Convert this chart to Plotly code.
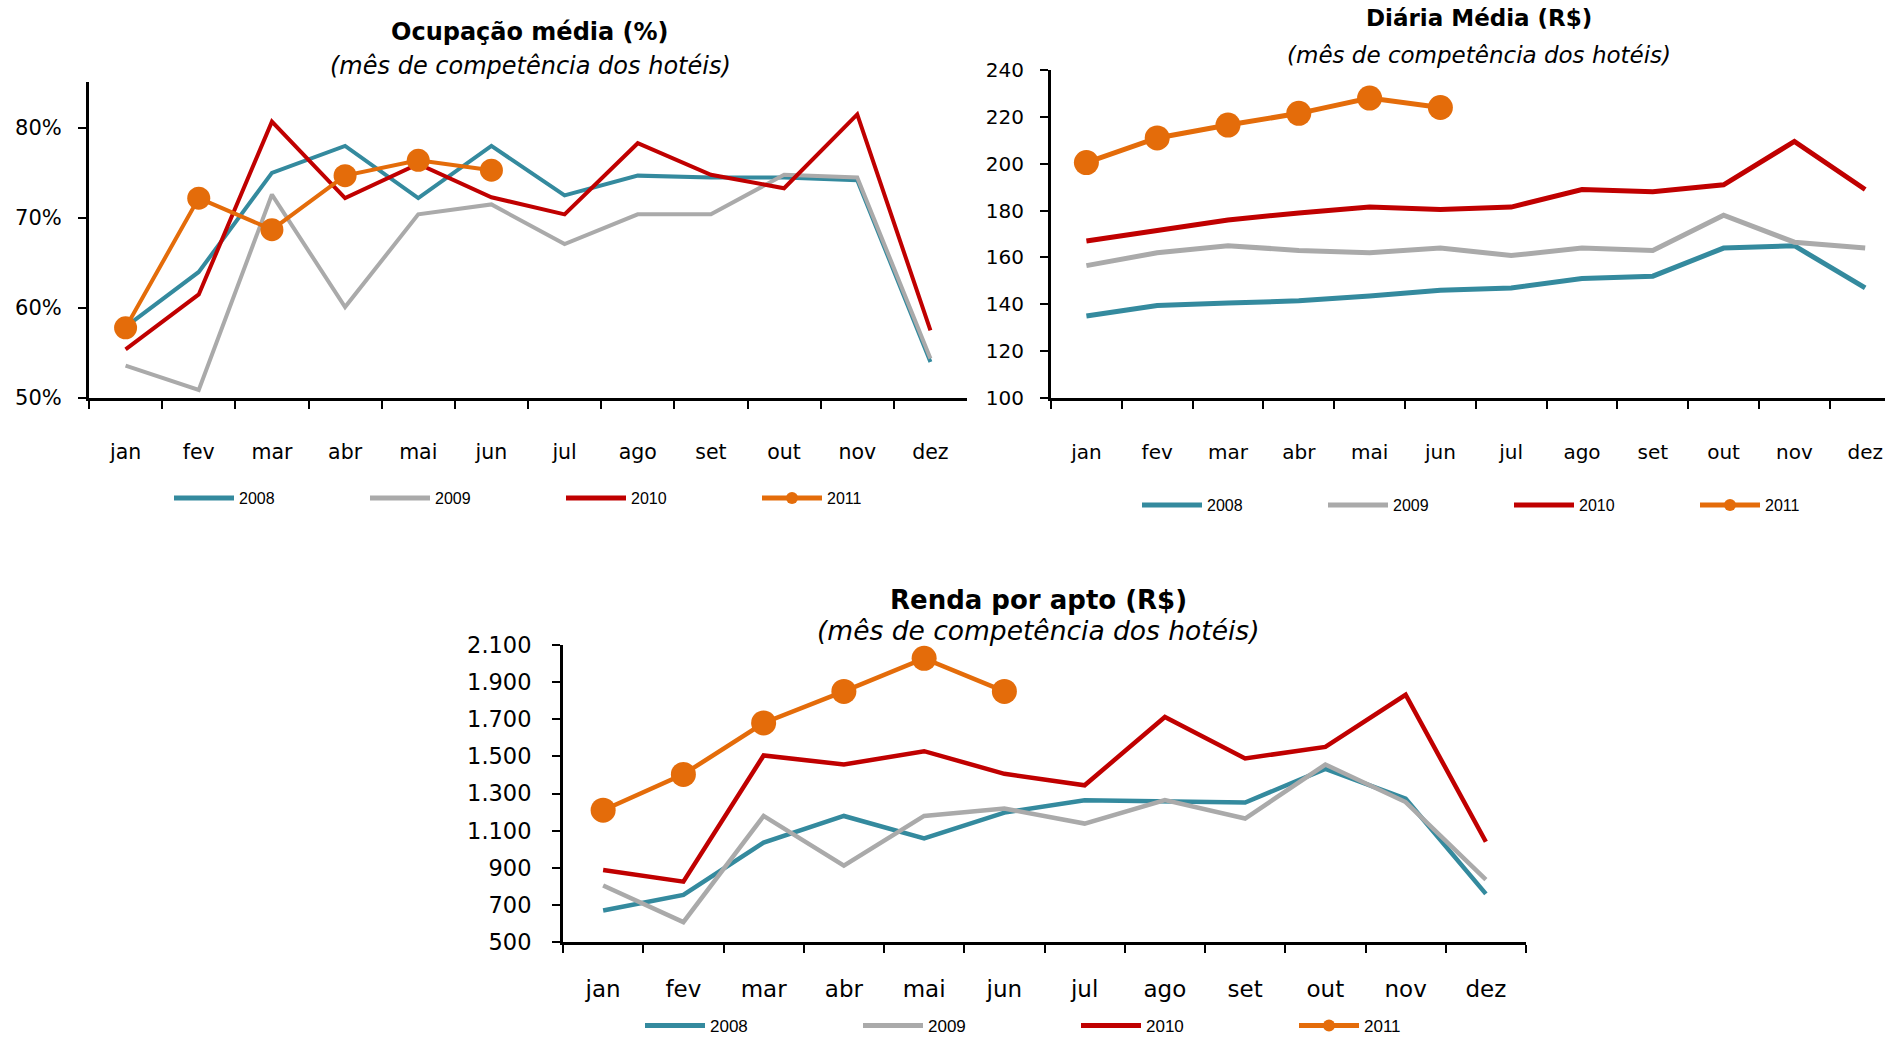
import plotly.graph_objects as go

months = ["jan", "fev", "mar", "abr", "mai", "jun", "jul", "ago", "set", "out", "nov", "dez"]
months_2011 = months[:6]
years = ["2008", "2009", "2010", "2011"]
colors = ["#348A9E", "#AAAAAA", "#C00000", "#E46C0A"]

# Ocupação média (%)
ocup_2008 = [57.9, 64.0, 75.0, 78.0, 72.2, 78.0, 72.5, 74.7, 74.5, 74.5, 74.2, 54.0]
ocup_2009 = [53.6, 50.9, 72.6, 60.1, 70.4, 71.5, 67.1, 70.4, 70.4, 74.8, 74.5, 54.4]
ocup_2010 = [55.4, 61.5, 80.7, 72.2, 76.0, 72.3, 70.4, 78.3, 74.8, 73.3, 81.5, 57.5]
ocup_2011 = [57.8, 72.2, 68.7, 74.7, 76.4, 75.3]
ocup_ticks = [50, 60, 70, 80]
ocup_ticktext = ["50%", "60%", "70%", "80%"]

# Diária média (R$)
diaria_2008 = [135, 139.5, 140.5, 141.5, 143.5, 146, 147, 151, 152, 164, 165, 147]
diaria_2009 = [156.5, 162, 165, 163, 162, 164, 160.8, 164, 163, 178, 166.5, 164]
diaria_2010 = [167, 171.5, 176, 179, 181.5, 180.5, 181.5, 189, 188, 191, 209.5, 189]
diaria_2011 = [200.5, 211, 216.5, 221.5, 228, 224]
diaria_ticks = [100, 120, 140, 160, 180, 200, 220, 240]

# Renda por apto (R$)
renda_2008 = [670, 754, 1036, 1179, 1058, 1197, 1263, 1254, 1251, 1433, 1272, 759]
renda_2009 = [804, 607, 1179, 911, 1179, 1219, 1138, 1265, 1165, 1456, 1254, 836]
renda_2010 = [888, 825, 1505, 1456, 1528, 1406, 1344, 1712, 1489, 1551, 1832, 1040]
renda_2011 = [1210, 1403, 1680, 1850, 2028, 1850]
renda_ticks = [500, 700, 900, 1100, 1300, 1500, 1700, 1900, 2100]

titles = ["Ocupação média (%)", "Diária Média (R$)", "Renda por apto (R$)"]
subtitle = "(mês de competência dos hotéis)"

W, H = 1885, 1038
FONT = "DejaVu Sans"

fig = go.Figure()

# per chart: data, axes, legend, line width, marker size
charts = [
    (ocup_2008, ocup_2009, ocup_2010, ocup_2011, "x", "y", "legend", 4, 23),
    (diaria_2008, diaria_2009, diaria_2010, diaria_2011, "x2", "y2", "legend2", 5, 25),
    (renda_2008, renda_2009, renda_2010, renda_2011, "x3", "y3", "legend3", 4.5, 25),
]

for s08, s09, s10, s11, xa, ya, lg, lw, ms in charts:
    for name, vals, col in zip(years[:3], [s08, s09, s10], colors[:3]):
        fig.add_trace(go.Scatter(x=months, y=vals, name=name, mode="lines",
                                 line=dict(color=col, width=lw), xaxis=xa, yaxis=ya,
                                 legend=lg))
    fig.add_trace(go.Scatter(x=months_2011, y=s11, name=years[3], mode="lines+markers",
                             line=dict(color=colors[3], width=lw),
                             marker=dict(color=colors[3], size=ms),
                             xaxis=xa, yaxis=ya, legend=lg))


def axis_common(fs):
    return dict(showline=True, linecolor="black", linewidth=3, ticks="outside",
                tickcolor="black", tickwidth=2, ticklen=8, showgrid=False,
                zeroline=False, tickfont=dict(family=FONT, size=fs, color="black"))


def xcommon(fs, standoff):
    return dict(axis_common(fs), type="category", categoryorder="array", categoryarray=months,
                tickson="boundaries", ticklabelstandoff=standoff)


fig.update_layout(
    width=W, height=H, margin=dict(l=0, r=0, t=0, b=0, autoexpand=False),
    paper_bgcolor="white", plot_bgcolor="white",
    separators=",.",
    xaxis=dict(xcommon(20.5, 33), domain=[89 / W, 967 / W], range=[-0.5, 11.5], anchor="y"),
    yaxis=dict(axis_common(21), domain=[1 - 398 / H, 1 - 82 / H], range=[50, 85.1],
               tickmode="array", tickvals=ocup_ticks, ticktext=ocup_ticktext,
               anchor="x", ticklabelstandoff=12),
    xaxis2=dict(xcommon(20, 34), domain=[1051 / W, 1.0], range=[-0.5, 11.28], anchor="y2"),
    yaxis2=dict(axis_common(20), domain=[1 - 398 / H, 1 - 70 / H], range=[100, 240],
                tickmode="array", tickvals=diaria_ticks, anchor="x2", ticklabelstandoff=12),
    xaxis3=dict(xcommon(23, 24), domain=[563 / W, 1526 / W], range=[-0.5, 11.5], anchor="y3"),
    yaxis3=dict(axis_common(22.5), domain=[1 - 942 / H, 1 - 645 / H], range=[500, 2100],
                tickmode="array", tickvals=renda_ticks, tickformat=",d", anchor="x3",
                ticklabelstandoff=16),
    showlegend=True,
)


def leg_common(fs):
    return dict(orientation="h", font=dict(family="Liberation Sans", size=fs, color="black"),
                bgcolor="rgba(0,0,0,0)", itemwidth=60, itemsizing="constant",
                xanchor="left", yanchor="middle", entrywidthmode="pixels",
                tracegroupgap=0, itemclick=False, itemdoubleclick=False)


fig.update_layout(
    legend=dict(leg_common(16), x=169 / W, y=1 - 498 / H, entrywidth=121),
    legend2=dict(leg_common(16), x=1137 / W, y=1 - 505 / H, entrywidth=111),
    legend3=dict(leg_common(17), x=640 / W, y=1 - 1026 / H, entrywidth=143),
)

title_pos = [(530, 32, 66, 24, 24), (1479, 18, 55, 23, 23), (1038, 600, 630, 26, 26.5)]
for t, (cx, ty, sy, tfs, sfs) in zip(titles, title_pos):
    fig.add_annotation(text="<b>" + t + "</b>", x=cx / W, y=1 - ty / H, xref="paper", yref="paper",
                       showarrow=False, font=dict(family=FONT, size=tfs, color="black"),
                       xanchor="center", yanchor="middle")
    fig.add_annotation(text="<i>" + subtitle + "</i>", x=cx / W, y=1 - sy / H, xref="paper",
                       yref="paper", showarrow=False,
                       font=dict(family=FONT, size=sfs, color="black"),
                       xanchor="center", yanchor="middle")

fig.write_html("out.html", config={"displayModeBar": False},
               post_script="document.body.style.margin='0px';")
